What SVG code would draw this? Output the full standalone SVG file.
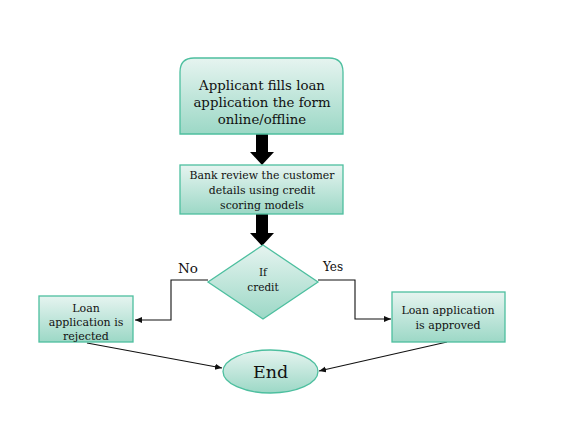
<svg xmlns="http://www.w3.org/2000/svg" width="563" height="443" viewBox="0 0 563 443">
<style>
.n{stroke:#4dbf9f;stroke-width:1.3;fill:url(#g)}
text{font-family:"DejaVu Serif","Liberation Serif",serif;fill:#111;text-anchor:middle}
.c{stroke:#111;stroke-width:1.1;fill:none}
.big{fill:#000;stroke:none}
</style>
<defs>
<linearGradient id="g" x1="0" y1="0" x2="0" y2="1">
<stop offset="0" stop-color="#e6f4f0"/>
<stop offset="1" stop-color="#9cd8c6"/>
</linearGradient>
<marker id="a" markerWidth="8" markerHeight="8" refX="7" refY="4" orient="auto" markerUnits="userSpaceOnUse">
<path d="M0,1 L7,4 L0,7 Z" fill="#111"/>
</marker>
</defs>
<rect width="563" height="443" fill="#fff"/>
<g id="connectors">
<path class="big" d="M256,134 H268 V152 H274 L262,165 L250,152 H256 Z"/>
<path class="big" d="M256,214 H268 V233 H274 L262,246 L250,233 H256 Z"/>
<path class="c" d="M208,280 H171 V320 H135" marker-end="url(#a)"/>
<path class="c" d="M318,280 H355 V319 H391" marker-end="url(#a)"/>
<path class="c" d="M87,343 L222,368" marker-end="url(#a)"/>
<path class="c" d="M447,342 L319,371" marker-end="url(#a)"/>
<text x="188" y="273" font-size="13.5">No</text>
<text x="333" y="271" font-size="12">Yes</text>
</g>
<g id="start">
<path class="n" d="M180,134 V72 Q180,58 194,58 H329 Q343,58 343,72 V134 Z"/>
<text x="262" y="90" font-size="13.3">Applicant fills loan</text>
<text x="262" y="107" font-size="13.3">application the form</text>
<text x="262" y="124" font-size="13.3">online/offline</text>
</g>
<g id="review">
<rect class="n" x="180" y="165" width="163" height="49"/>
<text x="262" y="179" font-size="10.9">Bank review the customer</text>
<text x="262" y="194" font-size="10.9">details using credit</text>
<text x="262" y="209" font-size="10.9">scoring models</text>
</g>
<g id="decision">
<path class="n" d="M263,245 L318,282 L263,319 L208,282 Z"/>
<text x="263" y="276" font-size="10.5">If</text>
<text x="263" y="291" font-size="10.5">credit</text>
</g>
<g id="rejected">
<rect class="n" x="39" y="296" width="94" height="46"/>
<text x="86" y="312" font-size="11">Loan</text>
<text x="86" y="326" font-size="11">application is</text>
<text x="86" y="340" font-size="11">rejected</text>
</g>
<g id="approved">
<rect class="n" x="392" y="292" width="113" height="50"/>
<text x="448" y="314" font-size="11">Loan application</text>
<text x="448" y="329" font-size="11">is approved</text>
</g>
<g id="end">
<ellipse class="n" cx="270.5" cy="371.5" rx="47.5" ry="21.5"/>
<text x="270.5" y="378" font-size="17.5">End</text>
</g>
</svg>
